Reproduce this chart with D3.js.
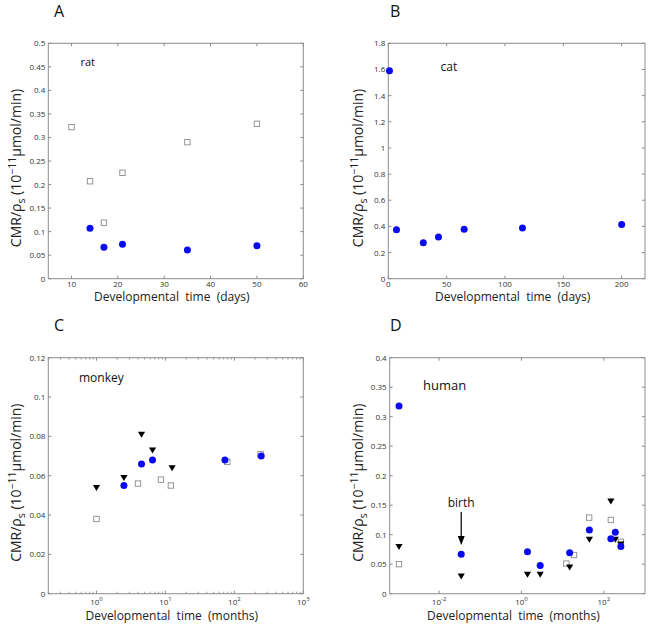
<!DOCTYPE html>
<html><head><meta charset="utf-8">
<script src="https://cdn.jsdelivr.net/npm/d3@7"></script>
<style>body{margin:0;background:#fff}svg{display:block}text{font-family:"Open Sans",sans-serif}</style>
</head><body><svg id="c" width="648" height="627"></svg>
<script>
// ---- data ----
const ratSquaresX = [10, 14, 17, 21, 35, 50];
const ratSquaresY = [0.322, 0.207, 0.119, 0.225, 0.290, 0.329];
const ratCirclesX = [14, 17, 21, 35, 50];
const ratCirclesY = [0.107, 0.067, 0.073, 0.061, 0.070];

const catCirclesX = [1, 7, 30, 43, 65, 115, 200];
const catCirclesY = [1.59, 0.375, 0.275, 0.318, 0.378, 0.388, 0.415];

const monkeyTrianglesX = [1, 2.5, 4.5, 6.5, 12.5];
const monkeyTrianglesY = [0.054, 0.059, 0.081, 0.073, 0.064];
const monkeyCirclesX = [2.5, 4.5, 6.5, 73, 245];
const monkeyCirclesY = [0.055, 0.066, 0.068, 0.068, 0.070];
const monkeySquaresX = [1, 4, 8.6, 12, 79, 240];
const monkeySquaresY = [0.038, 0.056, 0.058, 0.055, 0.067, 0.071];

const humanCirclesX = [0.00106, 0.0344, 1.4, 2.85, 14.8, 44.6, 148, 190, 259];
const humanCirclesY = [0.318, 0.067, 0.071, 0.048, 0.0695, 0.108, 0.093, 0.104, 0.080];
const humanTrianglesX = [0.00106, 0.0344, 1.4, 2.85, 14.8, 44.6, 148, 190, 259];
const humanTrianglesY = [0.080, 0.030, 0.033, 0.033, 0.045, 0.092, 0.157, 0.092, 0.084];
const humanSquaresX = [0.00106, 12.3, 18.9, 44, 148, 259];
const humanSquaresY = [0.050, 0.051, 0.0656, 0.129, 0.125, 0.088];

const ratXTicks = [10, 20, 30, 40, 50, 60];
const ratYTicks = [0, 0.05, 0.1, 0.15, 0.2, 0.25, 0.3, 0.35, 0.4, 0.45, 0.5];
const catXTicks = [0, 50, 100, 150, 200];
const catYTicks = [0, 0.2, 0.4, 0.6, 0.8, 1, 1.2, 1.4, 1.6, 1.8];
const monkeyXTicks = [1, 10, 100, 1000];
const monkeyYTicks = [0, 0.02, 0.04, 0.06, 0.08, 0.1, 0.12];
const humanXTicks = [0.01, 1, 100];
const humanYTicks = [0, 0.05, 0.1, 0.15, 0.2, 0.25, 0.3, 0.35, 0.4];

const panelLetters = ["A", "B", "C", "D"];
const speciesLabels = ["rat", "cat", "monkey", "human"];
const xLabels = ["Developmental  time  (days)", "Developmental  time  (days)", "Developmental  time  (months)", "Developmental  time  (months)"];

// ---- drawing ----
const svg = d3.select("#c");
const BLUE = "#0a0af0", AX = "#8c8c8c", TXT = "#333";

function zip(xs, ys){ return xs.map((x,i)=>({x, y: ys[i]})); }

function panel(o){
  const g = svg.append("g");
  const x = (o.log ? d3.scaleLog() : d3.scaleLinear()).domain(o.xd).range([o.l, o.r]);
  const y = d3.scaleLinear().domain(o.yd).range([o.b, o.t]);
  g.append("rect").attr("x", o.l).attr("y", o.t).attr("width", o.r-o.l).attr("height", o.b-o.t)
    .attr("fill", "none").attr("stroke", AX).attr("stroke-width", 1);
  const tl = 3;
  if (o.minor) {
    const minors = [];
    const [a,b] = o.xd;
    for (let e = Math.floor(Math.log10(a)); e < Math.ceil(Math.log10(b)); e++)
      for (let m = 2; m <= 9; m++) { const v = m*Math.pow(10,e); if (v>=a && v<=b) minors.push(v); }
    g.selectAll(null).data(minors).join("line")
      .attr("x1", d=>x(d)).attr("x2", d=>x(d)).attr("y1", o.b).attr("y2", o.b-2)
      .attr("stroke", AX).attr("stroke-width", 0.8);
    g.selectAll(null).data(minors).join("line")
      .attr("x1", d=>x(d)).attr("x2", d=>x(d)).attr("y1", o.t).attr("y2", o.t+2)
      .attr("stroke", AX).attr("stroke-width", 0.8);
  }
  g.selectAll(null).data(o.xt).join("line")
    .attr("x1", d=>x(d)).attr("x2", d=>x(d)).attr("y1", o.b).attr("y2", o.b-tl).attr("stroke", AX);
  g.selectAll(null).data(o.xt).join("line")
    .attr("x1", d=>x(d)).attr("x2", d=>x(d)).attr("y1", o.t).attr("y2", o.t+tl).attr("stroke", AX);
  g.selectAll(null).data(o.yt).join("line")
    .attr("y1", d=>y(d)).attr("y2", d=>y(d)).attr("x1", o.l).attr("x2", o.l+tl).attr("stroke", AX);
  g.selectAll(null).data(o.yt).join("line")
    .attr("y1", d=>y(d)).attr("y2", d=>y(d)).attr("x1", o.r).attr("x2", o.r-tl).attr("stroke", AX);
  const xl = g.selectAll(null).data(o.xt).join("text")
    .attr("x", d=>x(d)).attr("y", o.b + (o.log ? 11 : 8.5)).attr("text-anchor", "middle")
    .attr("font-size", 8).attr("fill", TXT);
  if (o.log) {
    xl.each(function(d){
      const t = d3.select(this);
      t.append("tspan").text("10");
      t.append("tspan").attr("dy", -3.5).attr("font-size", 6).text(String(Math.round(Math.log10(d))));
    });
  } else xl.text(d=>d);
  g.selectAll(null).data(o.yt).join("text")
    .attr("x", o.l-3).attr("y", d=>y(d)+3).attr("text-anchor", "end")
    .attr("font-size", 8).attr("fill", TXT).text(d=>String(+d.toFixed(3)));
  g.append("text").attr("x", (o.l+o.r)/2 - 4).attr("y", o.b + (o.log ? 26 : 22.5)).attr("text-anchor", "middle")
    .attr("font-size", 12).attr("fill", "#222").attr("xml:space", "preserve").text(o.xlab);
  const yl = g.append("text").attr("transform", `translate(${o.ylx},${(o.t+o.b)/2 + 7}) rotate(-90)`)
    .attr("text-anchor", "middle").attr("font-size", 14).attr("fill", "#222");
  yl.append("tspan").text("CMR/ρ");
  yl.append("tspan").attr("dy", 3.5).attr("font-size", 10.5).text("s");
  yl.append("tspan").attr("dy", -3.5).text(" (10");
  yl.append("tspan").attr("dy", -5.5).attr("font-size", 10.5).text("−11");
  yl.append("tspan").attr("dy", 5.5).text("μmol/min)");
  g.append("text").attr("x", o.px).attr("y", o.py).attr("font-size", 16).attr("fill", "#111").text(o.letter);
  g.append("text").attr("x", o.sx).attr("y", o.sy).attr("font-size", o.ss).attr("fill", "#111").text(o.species);
  if (o.squares) g.selectAll(null).data(o.squares).join("rect")
    .attr("x", d=>x(d.x)-2.7).attr("y", d=>y(d.y)-2.7).attr("width", 5.4).attr("height", 5.4)
    .attr("fill", "#fff").attr("stroke", "#8a8a8a").attr("stroke-width", 0.9);
  if (o.tris) g.selectAll(null).data(o.tris).join("path")
    .attr("d", d=>{const cx=x(d.x), cy=y(d.y); return `M${cx-3.6},${cy-2.6}L${cx+3.6},${cy-2.6}L${cx},${cy+3.4}Z`;})
    .attr("fill", "#000");
  if (o.circles) g.selectAll(null).data(o.circles).join("circle")
    .attr("cx", d=>x(d.x)).attr("cy", d=>y(d.y)).attr("r", 3.5).attr("fill", BLUE);
  return {g, x, y};
}

panel({l:48.3, r:303.3, t:43.3, b:278.7, xd:[5,60], yd:[0,0.5], xt:ratXTicks, yt:ratYTicks,
  xlab:xLabels[0], ylx:21, letter:panelLetters[0], px:54, py:17, species:speciesLabels[0], sx:80.5, sy:66, ss:11,
  squares:zip(ratSquaresX, ratSquaresY), circles:zip(ratCirclesX, ratCirclesY)});

panel({l:388.3, r:645, t:43.3, b:278.7, xd:[0,220], yd:[0,1.8], xt:catXTicks, yt:catYTicks,
  xlab:xLabels[1], ylx:363, letter:panelLetters[1], px:390, py:17, species:speciesLabels[1], sx:440.5, sy:71, ss:12,
  circles:zip(catCirclesX, catCirclesY)});

panel({l:48.3, r:303.3, t:357.7, b:593.7, log:true, minor:true, xd:[0.2,1000], yd:[0,0.12], xt:monkeyXTicks, yt:monkeyYTicks,
  xlab:xLabels[2], ylx:21, letter:panelLetters[2], px:54, py:331, species:speciesLabels[2], sx:79, sy:382, ss:12,
  squares:zip(monkeySquaresX, monkeySquaresY), tris:zip(monkeyTrianglesX, monkeyTrianglesY), circles:zip(monkeyCirclesX, monkeyCirclesY)});

const D = panel({l:389.7, r:645, t:357.7, b:593.7, log:true, xd:[0.00063,1000], yd:[0,0.4], xt:humanXTicks, yt:humanYTicks,
  xlab:xLabels[3], ylx:363, letter:panelLetters[3], px:390, py:331, species:speciesLabels[3], sx:423, sy:390, ss:13,
  squares:zip(humanSquaresX, humanSquaresY), tris:zip(humanTrianglesX, humanTrianglesY), circles:zip(humanCirclesX, humanCirclesY)});

const birthX = 0.0344;
D.g.append("text").attr("x", D.x(birthX)).attr("y", 507).attr("text-anchor", "middle")
  .attr("font-size", 12).attr("fill", "#111").text("birth");
D.g.append("line").attr("x1", D.x(birthX)).attr("x2", D.x(birthX)).attr("y1", 512).attr("y2", 538)
  .attr("stroke", "#000").attr("stroke-width", 1.2);
D.g.append("path").attr("d", `M${D.x(birthX)-3.5},${536}L${D.x(birthX)+3.5},${536}L${D.x(birthX)},${545}Z`).attr("fill", "#000");
</script></body></html>
